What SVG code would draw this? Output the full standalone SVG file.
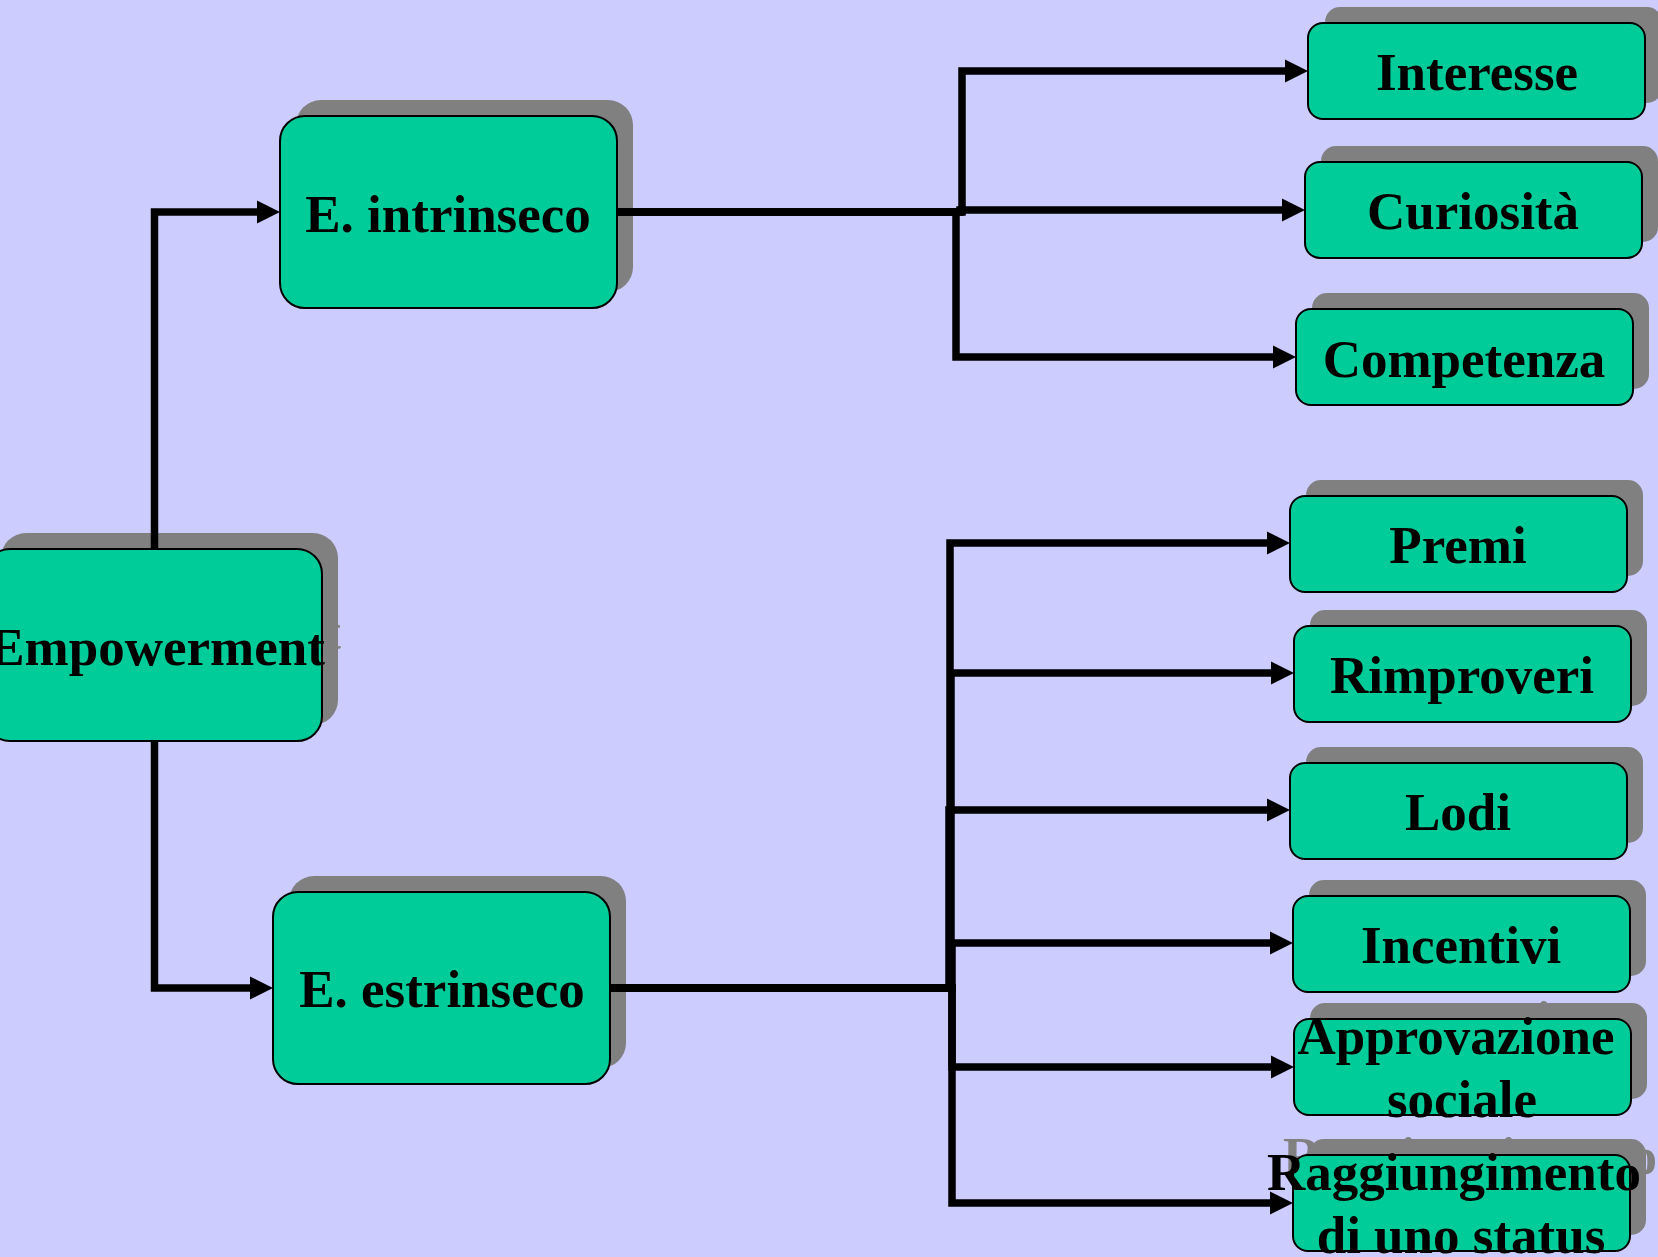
<svg xmlns="http://www.w3.org/2000/svg" width="1658" height="1257" viewBox="0 0 1658 1257">
  <style>
    .shadow { fill: #808080; }
    .box { fill: #00CC99; stroke: #000000; stroke-width: 2; }
    .label { font-family: "Liberation Serif", "Times New Roman", serif; font-weight: bold; font-size: 53px; fill: #000000; text-anchor: middle; }
    .label-shadow { font-family: "Liberation Serif", "Times New Roman", serif; font-weight: bold; font-size: 53px; fill: #808080; text-anchor: middle; }
    .link { fill: none; stroke: #000000; stroke-width: 7.5; stroke-linejoin: miter; }
  </style>
  <defs>
    <marker id="arrow" markerUnits="userSpaceOnUse" markerWidth="24" markerHeight="24" refX="0" refY="11.5" orient="auto" overflow="visible">
      <path d="M0,0 L23,11.5 L0,23 Z" fill="#000000"/>
    </marker>
  </defs>

  <rect x="0" y="0" width="1658" height="1257" fill="#CCCCFF"/>

  <!-- root node -->
  <g id="node-empowerment">
    <rect class="shadow" x="1" y="533" width="337" height="192" rx="25"/>
    <text class="label-shadow" x="173" y="649">Empowerment</text>
    <rect class="box" x="-15" y="549" width="337" height="192" rx="25"/>
    <text class="label" x="157" y="665">Empowerment</text>
  </g>

  <g id="node-intrinseco">
    <rect class="shadow" x="296" y="100" width="337" height="192" rx="25"/>
    <text class="label-shadow" x="464" y="216">E. intrinseco</text>
    <rect class="box" x="280" y="116" width="337" height="192" rx="25"/>
    <text class="label" x="448" y="232">E. intrinseco</text>
  </g>

  <g id="node-estrinseco">
    <rect class="shadow" x="289" y="876" width="337" height="192" rx="25"/>
    <text class="label-shadow" x="458" y="991">E. estrinseco</text>
    <rect class="box" x="273" y="892" width="337" height="192" rx="25"/>
    <text class="label" x="442" y="1007">E. estrinseco</text>
  </g>

  <!-- intrinsic motivators -->
  <g id="node-interesse">
    <rect class="shadow" x="1325" y="7" width="337" height="96" rx="15"/>
    <text class="label-shadow" x="1493" y="74">Interesse</text>
    <rect class="box" x="1308" y="23" width="337" height="96" rx="15"/>
    <text class="label" x="1477" y="90">Interesse</text>
  </g>

  <g id="node-curiosita">
    <rect class="shadow" x="1321" y="146" width="337" height="96" rx="15"/>
    <text class="label-shadow" x="1489" y="213">Curiosità</text>
    <rect class="box" x="1305" y="162" width="337" height="96" rx="15"/>
    <text class="label" x="1473" y="229">Curiosità</text>
  </g>

  <g id="node-competenza">
    <rect class="shadow" x="1312" y="293" width="337" height="96" rx="15"/>
    <text class="label-shadow" x="1480" y="361">Competenza</text>
    <rect class="box" x="1296" y="309" width="337" height="96" rx="15"/>
    <text class="label" x="1464" y="377">Competenza</text>
  </g>

  <!-- extrinsic motivators -->
  <g id="node-premi">
    <rect class="shadow" x="1306" y="480" width="337" height="96" rx="15"/>
    <text class="label-shadow" x="1474" y="547">Premi</text>
    <rect class="box" x="1290" y="496" width="337" height="96" rx="15"/>
    <text class="label" x="1458" y="563">Premi</text>
  </g>

  <g id="node-rimproveri">
    <rect class="shadow" x="1310" y="610" width="337" height="96" rx="15"/>
    <text class="label-shadow" x="1478" y="677">Rimproveri</text>
    <rect class="box" x="1294" y="626" width="337" height="96" rx="15"/>
    <text class="label" x="1462" y="693">Rimproveri</text>
  </g>

  <g id="node-lodi">
    <rect class="shadow" x="1306" y="747" width="337" height="96" rx="15"/>
    <text class="label-shadow" x="1474" y="814">Lodi</text>
    <rect class="box" x="1290" y="763" width="337" height="96" rx="15"/>
    <text class="label" x="1458" y="830">Lodi</text>
  </g>

  <g id="node-incentivi">
    <rect class="shadow" x="1309" y="880" width="337" height="96" rx="15"/>
    <text class="label-shadow" x="1477" y="947">Incentivi</text>
    <rect class="box" x="1293" y="896" width="337" height="96" rx="15"/>
    <text class="label" x="1461" y="963">Incentivi</text>
  </g>

  <g id="node-approvazione">
    <rect class="shadow" x="1310" y="1003" width="337" height="96" rx="15"/>
    <text class="label-shadow" x="1472" y="1038">Approvazione</text>
    <text class="label-shadow" x="1478" y="1101">sociale</text>
    <rect class="box" x="1294" y="1019" width="337" height="96" rx="15"/>
    <text class="label" x="1456" y="1054">Approvazione</text>
    <text class="label" x="1462" y="1117">sociale</text>
  </g>

  <g id="node-raggiungimento">
    <rect class="shadow" x="1309" y="1139" width="337" height="96" rx="15"/>
    <text class="label-shadow" x="1470" y="1174">Raggiungimento</text>
    <text class="label-shadow" x="1477" y="1237">di uno status</text>
    <rect class="box" x="1293" y="1155" width="337" height="96" rx="15"/>
    <text class="label" x="1454" y="1190">Raggiungimento</text>
    <text class="label" x="1461" y="1253">di uno status</text>
  </g>

  <!-- connectors: elbow routes ending in arrowheads at the box edges -->
  <g id="connectors">
    <path class="link" marker-end="url(#arrow)" d="M154.5,549 V212 H257"/>
    <path class="link" marker-end="url(#arrow)" d="M154.5,741 V988 H250"/>
    <path class="link" marker-end="url(#arrow)" d="M617,212 H962 V71 H1285"/>
    <path class="link" marker-end="url(#arrow)" d="M617,212 H960 V210 H1282"/>
    <path class="link" marker-end="url(#arrow)" d="M617,212 H956 V357 H1273"/>
    <path class="link" marker-end="url(#arrow)" d="M610,988 H950 V543 H1267"/>
    <path class="link" marker-end="url(#arrow)" d="M610,988 H951 V673 H1271"/>
    <path class="link" marker-end="url(#arrow)" d="M610,988 H949 V810 H1267"/>
    <path class="link" marker-end="url(#arrow)" d="M610,988 H952 V943 H1270"/>
    <path class="link" marker-end="url(#arrow)" d="M610,988 H952 V1067 H1271"/>
    <path class="link" marker-end="url(#arrow)" d="M610,988 H952 V1203 H1270"/>
  </g>
</svg>
